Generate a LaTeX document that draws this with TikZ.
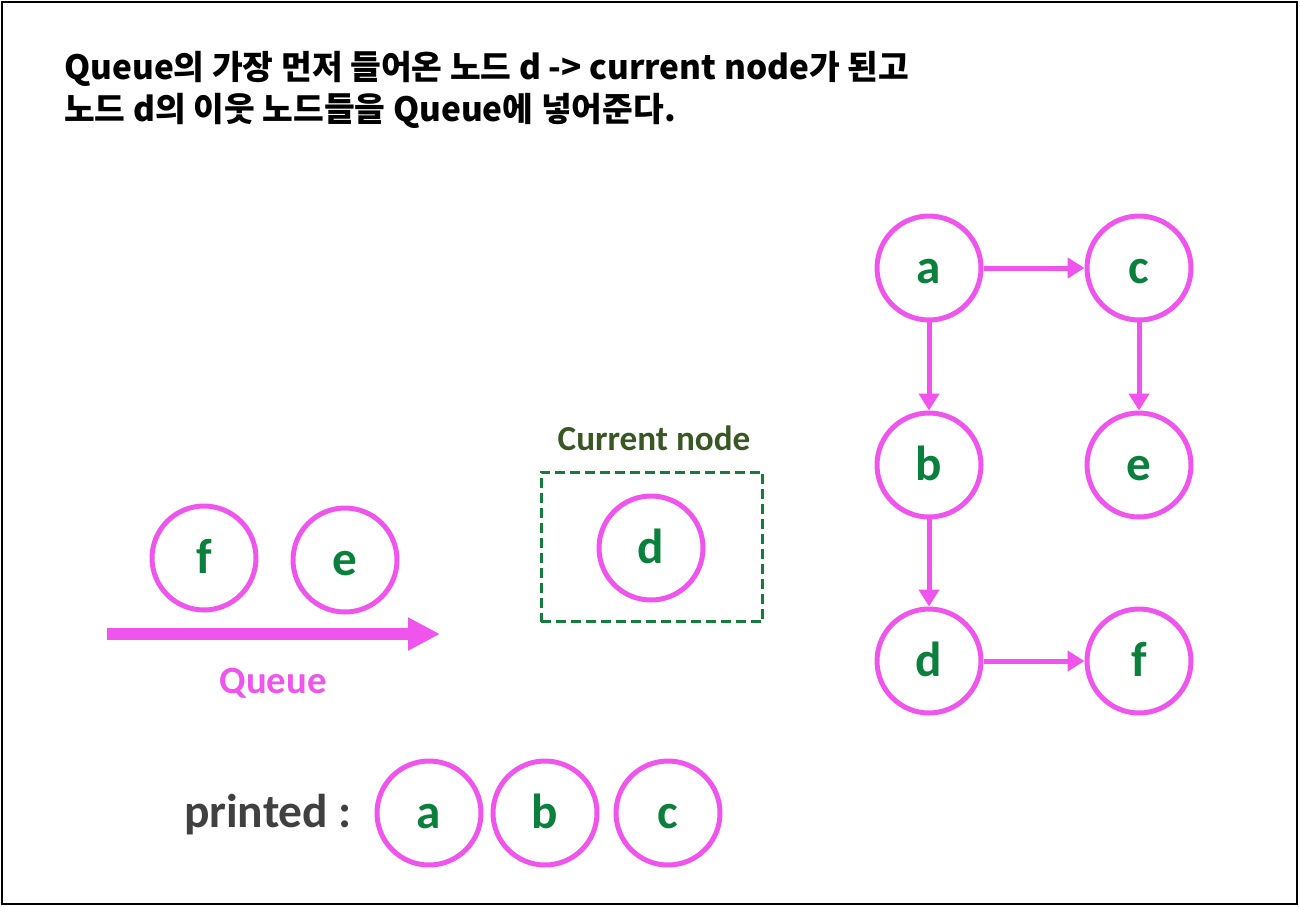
\documentclass[tikz,border=0pt]{standalone}
\usepackage{fontspec}
\setmainfont{Carlito}
\newfontfamily\krfont{Noto Sans CJK KR}
\usetikzlibrary{arrows.meta,positioning}
\definecolor{nodepink}{RGB}{239,85,236}
\definecolor{lettergreen}{RGB}{11,128,60}
\definecolor{boxgreen}{RGB}{20,125,60}
\definecolor{labelgreen}{RGB}{56,87,35}
\definecolor{printgray}{RGB}{64,64,64}

\begin{document}
\begin{tikzpicture}[x=0.02cm,y=-0.02cm]
\tikzset{
  graphnode/.style={circle,draw=nodepink,line width=0.1cm,minimum size=2.08cm,inner sep=0pt,
    text=lettergreen,font=\bfseries\fontsize{28}{28}\selectfont,text height=0.6cm,text depth=0cm},
  directed/.style={-{Triangle[length=0.34cm,width=0.4cm]},draw=nodepink,line width=0.1cm},
  queuearrow/.style={-{Triangle[length=0.64cm,width=0.62cm]},draw=nodepink,line width=0.24cm}
}
\useasboundingbox (0,0) rectangle (1300,906);
\draw[line width=0.05cm] (2,2) rectangle (1297,904);

% title
\node[anchor=west,align=left,font=\krfont\bfseries\fontsize{19}{24}\selectfont] (title) at (58,90)
  {Queue의 가장 먼저 들어온 노드 d -> current node가 된고\\노드 d의 이웃 노드들을 Queue에 넣어준다.};

% graph
\node[graphnode] (n_a) at (929,268) {a};
\node[graphnode] (n_c) at (1139,268) {c};
\node[graphnode] (n_b) at (929,465) {b};
\node[graphnode] (n_e) at (1139,465) {e};
\node[graphnode] (n_d) at (929,661) {d};
\node[graphnode] (n_f) at (1139,661) {f};
\draw[directed] (n_a) -- (n_c);
\draw[directed] (n_a) -- (n_b);
\draw[directed] (n_c) -- (n_e);
\draw[directed] (n_b) -- (n_d);
\draw[directed] (n_d) -- (n_f);

% queue
\node[graphnode] (q_f) at (204,558) {f};
\node[graphnode] (q_e) at (345,560) {e};
\coordinate (q_tail) at (107,634);
\coordinate (q_head) at (440,634);
\draw[queuearrow] (q_tail) -- (q_head);
\node[text=nodepink,font=\bfseries\fontsize{22}{22}\selectfont] (q_label) at (273,683) {Queue};

% current node
\node[draw=boxgreen,line width=0.06cm,dash pattern=on 0.2cm off 0.1cm,
  minimum width=4.44cm,minimum height=3cm] (cur_box) at (652,547) {};
\node[graphnode] (cur_d) at (651,548) {d};
\node[text=labelgreen,font=\bfseries\fontsize{20}{20}\selectfont] (cur_label) at (654,438) {Current node};

% printed
\node[text=printgray,font=\bfseries\fontsize{27}{27}\selectfont] (p_label) at (268,815) {printed :};
\node[graphnode] (p_a) at (429,813) {a};
\node[graphnode] (p_b) at (545,813) {b};
\node[graphnode] (p_c) at (668,813) {c};
\end{tikzpicture}
\end{document}
